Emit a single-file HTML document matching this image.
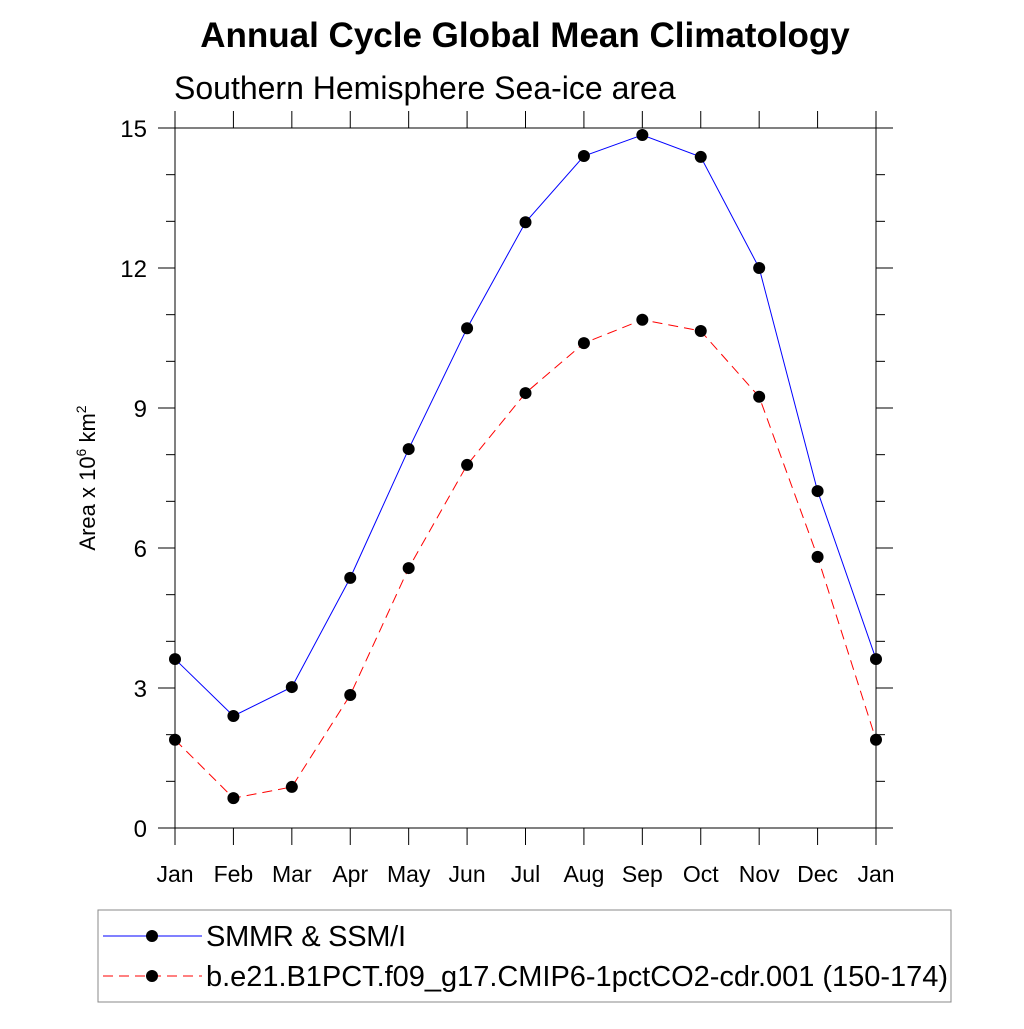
<!DOCTYPE html>
<html><head><meta charset="utf-8"><style>
body{margin:0;background:#fff;}
svg text{font-family:"Liberation Sans",sans-serif;fill:#000;}
</style></head><body>
<svg id="chart" width="1024" height="1024" viewBox="0 0 1024 1024" xmlns="http://www.w3.org/2000/svg">
<rect width="1024" height="1024" fill="#fff"/>
<text x="525" y="47" text-anchor="middle" font-size="35" font-weight="bold">Annual Cycle Global Mean Climatology</text>
<text x="174" y="99" font-size="32">Southern Hemisphere Sea-ice area</text>
<text transform="translate(95,478) rotate(-90)" text-anchor="middle" font-size="22">Area x 10<tspan font-size="14" dy="-9">6</tspan><tspan dy="9"> km</tspan><tspan font-size="14" dy="-9">2</tspan></text>
<g id="axes"></g>
<g id="series"></g>
<rect x="98" y="910" width="853" height="92" fill="none" stroke="#888" stroke-width="1"/>
<line x1="103" y1="936" x2="202" y2="936" stroke="#0000ff" stroke-width="1"/>
<circle cx="152" cy="936" r="6" fill="#000"/>
<text x="206" y="946" font-size="29" textLength="200">SMMR &amp; SSM/I</text>
<line x1="103" y1="976" x2="202" y2="976" stroke="#ff0000" stroke-width="1" stroke-dasharray="10,6"/>
<circle cx="152" cy="976" r="6" fill="#000"/>
<text x="206" y="986" font-size="29" textLength="742">b.e21.B1PCT.f09_g17.CMIP6-1pctCO2-cdr.001 (150-174)</text>
</svg>
<script>
const months = ["Jan","Feb","Mar","Apr","May","Jun","Jul","Aug","Sep","Oct","Nov","Dec","Jan"];
const obsValues = [3.62,2.40,3.02,5.36,8.12,10.71,12.98,14.40,14.85,14.38,12.0,7.22,3.62];
const modelValues = [1.89,0.64,0.88,2.85,5.57,7.78,9.32,10.39,10.89,10.65,9.24,5.81,1.89];
const yTicks = [0,3,6,9,12,15];
const yMax = 15;

const NS="http://www.w3.org/2000/svg";
const L=175,R=876,T=128,B=828;
const xs=i=>L+(R-L)*i/(months.length-1);
const ys=v=>B-(B-T)*v/yMax;
function mk(tag,attrs,parent){const e=document.createElementNS(NS,tag);for(const k in attrs)e.setAttribute(k,attrs[k]);parent.appendChild(e);return e;}
const ax=document.getElementById('axes');
const frame=mk('rect',{x:L,y:T,width:R-L,height:B-T,fill:'none',stroke:'#000','stroke-width':1},ax);


for(let v=0;v<=yMax;v++){
  const major=yTicks.includes(v);const len=major?17:9;const y=ys(v);
  const t1=mk('line',{x1:L-len,y1:y,x2:L,y2:y,stroke:'#000'},ax);
  
  
  const t2=mk('line',{x1:R,y1:y,x2:R+len,y2:y,stroke:'#000'},ax);
  
  
}
yTicks.forEach(v=>{
  const t=mk('text',{x:L-28,y:ys(v)+9,'text-anchor':'end','font-size':24},ax);t.textContent=v;
  
  
});
months.forEach((m,i)=>{
  const x=xs(i);
  const a=mk('line',{x1:x,y1:B,x2:x,y2:B+17,stroke:'#000'},ax);
  
  
  const b=mk('line',{x1:x,y1:T-17,x2:x,y2:T,stroke:'#000'},ax);
  
  
  const t=mk('text',{x:x,y:882,'text-anchor':'middle','font-size':23},ax);t.textContent=m;
  
  
});
const sg=document.getElementById('series');
function drawSeries(vals,color,dash,name){
  const p=mk('polyline',{points:vals.map((v,i)=>xs(i)+','+ys(v)).join(' '),fill:'none',stroke:color,'stroke-width':1,'stroke-dasharray':dash},sg);
  
  
  vals.forEach((v,i)=>{
    const c=mk('circle',{cx:xs(i),cy:ys(v),r:6,fill:'#000'},sg);
    
    
  });
}
drawSeries(obsValues,'#0000ff','none','obs');
drawSeries(modelValues,'#ff0000','10,6','model');
</script>
</body></html>
